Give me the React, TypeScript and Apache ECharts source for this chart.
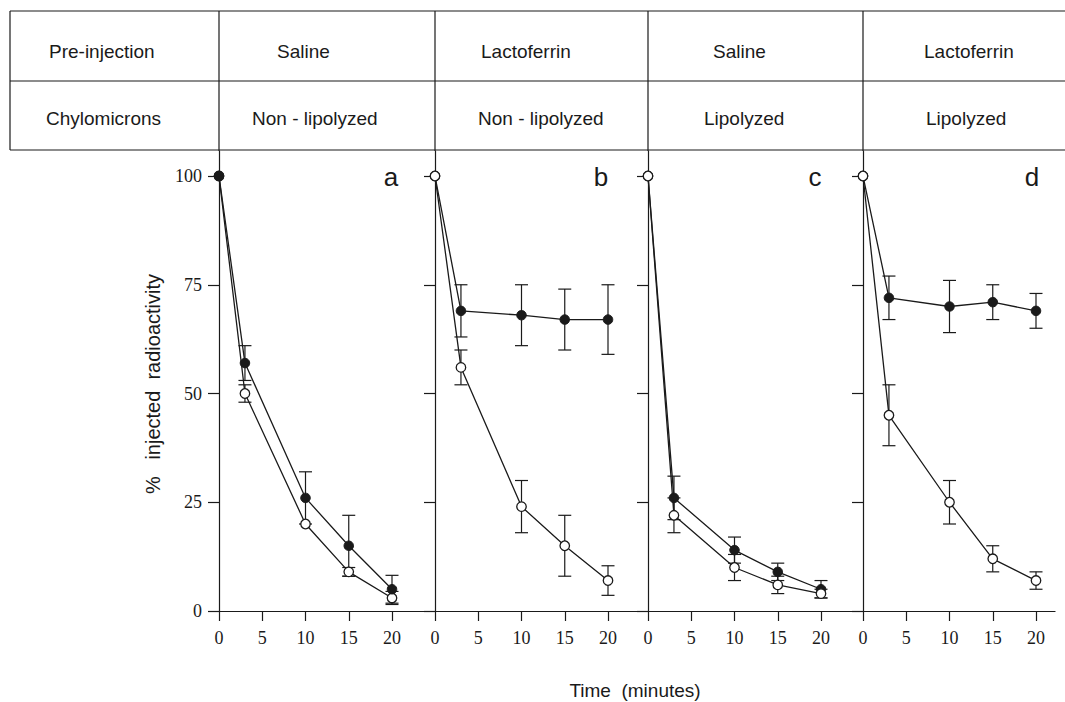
import React, { useEffect, useRef } from "react";
import * as echarts from "echarts";

// ---- data ----
const times = [0, 3, 10, 15, 20];
const panelLetters = ["a", "b", "c", "d"];
const rowHeaders = ["Pre-injection", "Chylomicrons"];
const preInjection = ["Saline", "Lactoferrin", "Saline", "Lactoferrin"];
const chylomicrons = ["Non - lipolyzed", "Non - lipolyzed", "Lipolyzed", "Lipolyzed"];
const yTicks = [0, 25, 50, 75, 100];
const xTicks = [0, 5, 10, 15, 20];

const filledA = [100, 57, 26, 15, 5];
const filledErrA = [0, 4, 6, 7, 3.2];
const openA = [100, 50, 20, 9, 3];
const openErrA = [0, 2, 0, 1, 1.5];

const filledB = [100, 69, 68, 67, 67];
const filledErrB = [0, 6, 7, 7, 8];
const openB = [100, 56, 24, 15, 7];
const openErrB = [0, 4, 6, 7, 3.4];

const filledC = [100, 26, 14, 9, 5];
const filledErrC = [0, 5, 3, 2, 2];
const openC = [100, 22, 10, 6, 4];
const openErrC = [0, 4, 3, 2, 1];

const filledD = [100, 72, 70, 71, 69];
const filledErrD = [0, 5, 6, 4, 4];
const openD = [100, 45, 25, 12, 7];
const openErrD = [0, 7, 5, 3, 2];

const panels = [
  { filled: filledA, filledErr: filledErrA, open: openA, openErr: openErrA, filledOnTop: true },
  { filled: filledB, filledErr: filledErrB, open: openB, openErr: openErrB, filledOnTop: false },
  { filled: filledC, filledErr: filledErrC, open: openC, openErr: openErrC, filledOnTop: false },
  { filled: filledD, filledErr: filledErrD, open: openD, openErr: openErrD, filledOnTop: false },
];

// ---- layout ----
const axisX = [219, 435, 648, 863];
const xMax = [25, 24.6, 24.9, 22.2];
const pxPerMin = 8.65;
const gridTop = 151;
const gridHeight = 460;
const yMax = 105.75;
const row1Left = [277, 481, 713, 924];
const row2Left = [252, 478, 704, 926];
const letterX = [391, 601, 815, 1032];
const INK = "#1a1a1a";
const SANS = "'Liberation Sans', Arial, sans-serif";
const SERIF = "'Liberation Serif', 'Times New Roman', serif";

function errorRender(params: any, api: any) {
  const x = api.value(0);
  const y = api.value(1);
  const e = api.value(2);
  if (!e) return null;
  const top = api.coord([x, y + e]);
  const bot = api.coord([x, y - e]);
  const hw = 6.5;
  const style = { stroke: INK, lineWidth: 1.2 };
  return {
    type: "group",
    children: [
      { type: "line", shape: { x1: top[0], y1: top[1], x2: bot[0], y2: bot[1] }, style },
      { type: "line", shape: { x1: top[0] - hw, y1: top[1], x2: top[0] + hw, y2: top[1] }, style },
      { type: "line", shape: { x1: bot[0] - hw, y1: bot[1], x2: bot[0] + hw, y2: bot[1] }, style },
    ],
  };
}

export default function App() {
  const ref = useRef<HTMLDivElement>(null);

  useEffect(() => {
    if (!ref.current) return;
    const chart = echarts.init(ref.current, null, { renderer: "svg" });

    const grid: any[] = [];
    const xAxis: any[] = [];
    const yAxis: any[] = [];
    const series: any[] = [];

    panels.forEach((p, i) => {
      grid.push({
        left: axisX[i],
        top: gridTop,
        width: xMax[i] * pxPerMin,
        height: gridHeight,
        containLabel: false,
        outerBoundsMode: "none",
      });
      xAxis.push({
        type: "value",
        gridIndex: i,
        min: 0,
        max: xMax[i],
        splitLine: { show: false },
        axisLine: { show: true, lineStyle: { color: INK, width: 1.2 } },
        axisTick: { show: true, length: 10, customValues: xTicks, lineStyle: { color: INK, width: 1.2 } },
        axisLabel: {
          show: true,
          customValues: xTicks,
          margin: 18,
          color: INK,
          fontFamily: SERIF,
          fontSize: 18,
        },
      });
      yAxis.push({
        type: "value",
        gridIndex: i,
        min: 0,
        max: yMax,
        splitLine: { show: false },
        axisLine: { show: true, onZero: false, lineStyle: { color: INK, width: 1.2 } },
        axisTick: { show: true, length: 11, customValues: yTicks, lineStyle: { color: INK, width: 1.2 } },
        axisLabel: {
          show: i === 0,
          customValues: yTicks,
          margin: 17,
          color: INK,
          fontFamily: SERIF,
          fontSize: 18,
        },
      });

      const filledData = times.map((t, k) => [t, p.filled[k]]);
      const openData = times.map((t, k) => [t, p.open[k]]);
      const filledErrData = times.map((t, k) => [t, p.filled[k], p.filledErr[k]]);
      const openErrData = times.map((t, k) => [t, p.open[k], p.openErr[k]]);

      series.push({
        type: "custom",
        xAxisIndex: i,
        yAxisIndex: i,
        z: 1,
        renderItem: errorRender,
        data: filledErrData,
        encode: { x: 0, y: 1 },
        silent: true,
      });
      series.push({
        type: "custom",
        xAxisIndex: i,
        yAxisIndex: i,
        z: 1,
        renderItem: errorRender,
        data: openErrData,
        encode: { x: 0, y: 1 },
        silent: true,
      });
      series.push({
        type: "line",
        name: "filled",
        xAxisIndex: i,
        yAxisIndex: i,
        z: p.filledOnTop ? 4 : 3,
        data: filledData,
        symbol: "circle",
        symbolSize: 9.5,
        showAllSymbol: true,
        lineStyle: { color: INK, width: 1.3 },
        itemStyle: { color: INK, borderColor: INK, borderWidth: 1 },
      });
      series.push({
        type: "line",
        name: "open",
        xAxisIndex: i,
        yAxisIndex: i,
        z: p.filledOnTop ? 3 : 4,
        data: openData,
        symbol: "circle",
        symbolSize: 9.5,
        showAllSymbol: true,
        lineStyle: { color: INK, width: 1.3 },
        itemStyle: { color: "#ffffff", borderColor: INK, borderWidth: 1.3 },
      });
    });

    const lineStyle = { stroke: INK, lineWidth: 1.2 };
    const graphic: any[] = [
      // table frame
      { type: "line", shape: { x1: 10, y1: 11, x2: 1065, y2: 11 }, style: lineStyle },
      { type: "line", shape: { x1: 10, y1: 81, x2: 1065, y2: 81 }, style: lineStyle },
      { type: "line", shape: { x1: 10, y1: 150, x2: 1065, y2: 150 }, style: lineStyle },
      { type: "line", shape: { x1: 10, y1: 11, x2: 10, y2: 150 }, style: lineStyle },
      ...axisX.map((x) => ({
        type: "line",
        shape: { x1: x, y1: 11, x2: x, y2: 151 },
        style: lineStyle,
      })),
      {
        type: "text",
        x: 49,
        y: 51,
        style: { text: rowHeaders[0], fontFamily: SANS, fontSize: 19, fill: INK, align: "left", verticalAlign: "middle" },
      },
      {
        type: "text",
        x: 46,
        y: 118,
        style: { text: rowHeaders[1], fontFamily: SANS, fontSize: 19, fill: INK, align: "left", verticalAlign: "middle" },
      },
      ...preInjection.map((t, i) => ({
        type: "text",
        x: row1Left[i],
        y: 51,
        style: { text: t, fontFamily: SANS, fontSize: 19, fill: INK, align: "left", verticalAlign: "middle" },
      })),
      ...chylomicrons.map((t, i) => ({
        type: "text",
        x: row2Left[i],
        y: 118,
        style: { text: t, fontFamily: SANS, fontSize: 19, fill: INK, align: "left", verticalAlign: "middle" },
      })),
      ...panelLetters.map((t, i) => ({
        type: "text",
        x: letterX[i],
        y: 177,
        style: { text: t, fontFamily: SANS, fontSize: 26, fill: INK, align: "center", verticalAlign: "middle" },
      })),
      {
        type: "text",
        x: 153,
        y: 384,
        rotation: Math.PI / 2,
        style: {
          text: "%\u00A0\u00A0\u00A0injected\u00A0\u00A0radioactivity",
          fontFamily: SANS,
          fontSize: 20,
          fill: INK,
          align: "center",
          verticalAlign: "middle",
        },
      },
      {
        type: "text",
        x: 635,
        y: 690,
        style: {
          text: "Time\u00A0\u00A0(minutes)",
          fontFamily: SANS,
          fontSize: 19,
          fill: INK,
          align: "center",
          verticalAlign: "middle",
        },
      },
    ];

    chart.setOption({
      animation: false,
      backgroundColor: "#ffffff",
      grid,
      xAxis,
      yAxis,
      series,
      graphic,
    });

    return () => chart.dispose();
  }, []);

  return (
    <div
      ref={ref}
      style={{ position: "fixed", left: 0, top: 0, width: 1065, height: 702, background: "#fff" }}
    />
  );
}
